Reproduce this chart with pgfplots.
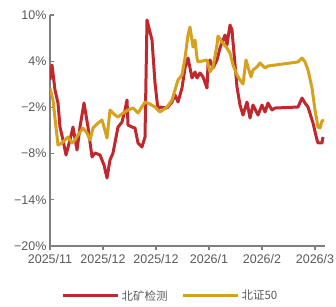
\documentclass[border=0pt]{standalone}
\usepackage{pgfplots}
\pgfplotsset{compat=1.18}
\usepackage{fontspec}
\setmainfont{Liberation Sans}
\newfontfamily\cjk{Noto Sans CJK SC}
\definecolor{bkred}{HTML}{C0282D}
\definecolor{bzgold}{HTML}{D6A11E}
\definecolor{axgray}{HTML}{7F7F7F}
\definecolor{txtgray}{HTML}{595959}
\begin{document}
\begin{tikzpicture}[x=1pt,y=1pt]
\useasboundingbox (-50pt,-60pt) rectangle (286pt,246pt);
\begin{axis}[
  at={(0pt,0pt)}, anchor=south west,
  scale only axis, width=275pt, height=231pt,
  xmin=50, xmax=325, ymin=-20, ymax=10,
  axis x line*=bottom, axis y line*=left,
  axis line style={axgray, line width=1.2pt, -},
  xtick={50,103,156,209,262,315},
  xticklabels={2025/11,2025/12,2025/12,2026/1,2026/2,2026/3},
  ytick={-20,-14,-8,-2,4,10},
  yticklabels={−20\%,−14\%,−8\%,−2\%,4\%,10\%},
  tick style={axgray, line width=1.2pt},
  major tick length=4pt,
  xtick align=outside, ytick align=inside,
  ticklabel style={font=\fontsize{12.5}{14}\selectfont, text=txtgray},
  xticklabel style={yshift=-1pt},
  legend style={at={(0.438,-0.216)}, anchor=center, draw=none, fill=none,
    legend columns=2, font=\cjk\fontsize{11.5}{13}\selectfont, text=txtgray,
    /tikz/every even column/.append style={column sep=12pt}},
  legend image code/.code={\draw[#1, line width=3pt] (0pt,0pt) -- (55pt,0pt);},
  every axis plot/.append style={line width=3pt, line join=round},
]
\addplot[bkred, mark=none] coordinates {
(50,1.56) (52,3.5) (55,0.26) (58,-1.43) (60,-4.55) (63,-6.23) (66,-8.18) (70,-6.23)
(73,-4.55) (77,-7.53) (80,-4.55) (84,-1.43) (88,-4.55) (92,-8.44) (95,-7.92) (100,-8.18)
(104,-9.48) (107,-11.17) (110,-8.83) (113,-7.92) (118,-4.55) (122,-3.9) (125,-2.34)
(127,-1.04) (128,-4.29) (132,-4.55) (135,-4.68) (138,-6.62) (142,-7.14) (145,-5.84)
(147,9.35) (152,6.75) (155,1.2) (158,-2.34) (160,-1.95) (167,-2.08) (172,-1.3) (175,-0.39)
(178,-1.3) (182,0.52) (185,3.12) (188,4.42) (192,1.82) (195,2.6) (197,1.82) (200,2.47)
(203,1.95) (207,0.52) (208,3.5) (210,4.16) (213,3.12) (217,4.16) (220,5.71) (223,6.75)
(225,7.4) (227,6.1) (228,7.01) (230,8.7) (232,8.05) (233,6.49) (237,0.65) (240,-1.69)
(243,-2.99) (247,-1.3) (250,-3.38) (253,-1.69) (258,-2.99) (262,-1.69) (265,-2.6)
(268,-1.43) (272,-2.34) (275,-2.08) (298,-1.95) (302,-0.78) (305,-1.43) (308,-1.95)
(313,-4.03) (317,-6.23) (318,-6.62) (322,-6.62) (323,-5.84)
};
\addlegendentry{北矿检测}
\addplot[bzgold, mark=none] coordinates {
(50,0.52) (53,-1.04) (58,-6.88) (62,-6.62) (65,-6.23) (68,-5.84) (72,-6.62) (75,-6.23)
(78,-5.58) (83,-4.68) (87,-5.32) (90,-6.23) (93,-4.68) (98,-4.03) (102,-3.64) (104,-4.55)
(107,-5.97) (110,-2.34) (115,-2.99) (118,-3.25) (123,-2.73) (128,-2.34) (133,-2.08)
(138,-2.73) (145,-1.3) (150,-1.56) (155,-1.95) (160,-2.6) (167,-1.95) (172,-1.04)
(175,0.26) (178,1.56) (182,2.21) (185,4.42) (188,7.4) (190,8.44) (193,5.84) (195,6.75)
(197,4.42) (198,3.9) (207,4.16) (210,2.6) (213,3.25) (217,6.1) (218,7.27) (222,6.49)
(227,5.71) (230,5.06) (233,3.5) (237,2.21) (240,1.56) (243,1.04) (246,4.16) (248,3.25)
(251,1.95) (253,2.86) (257,3.25) (260,3.77) (265,3.12) (268,3.38) (298,3.9) (302,4.42)
(305,3.9) (308,2.86) (312,0.52) (315,-2.34) (318,-4.55) (320,-4.68) (322,-3.77) (324,-3.64)
};
\addlegendentry{北证50}
\end{axis}
\end{tikzpicture}
\end{document}
